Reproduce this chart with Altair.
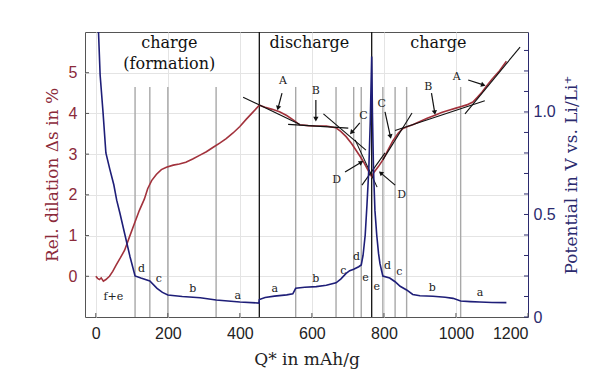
import math
import altair as alt
import pandas as pd

# ---------------- data ----------------
# relative dilation (left axis, %)
red_x = [0, 5, 10, 15, 21, 28, 38, 47, 56, 68, 80, 94, 107, 121, 135, 144, 155, 168, 182, 196,
         215, 232, 250, 269, 288, 307, 326, 344, 362, 381, 400, 418, 435, 454,
         470, 490, 510, 530, 550, 566, 590, 612, 640, 666, 680, 695, 710, 723, 735, 746, 755, 761, 766,
         772, 785, 797, 810, 825, 840, 853, 866, 880, 900, 920, 940, 960, 980, 1000, 1015, 1030,
         1047, 1060, 1072, 1084, 1100, 1121, 1140]
red_s = [0.0, -0.05, -0.08, -0.04, -0.12, -0.08, 0.0, 0.12, 0.27, 0.45, 0.64, 0.98, 1.29, 1.62, 1.90,
         2.15, 2.35, 2.50, 2.62, 2.68, 2.73, 2.76, 2.80, 2.88, 2.97, 3.06, 3.17, 3.27, 3.38, 3.52,
         3.68, 3.86, 4.02, 4.20,
         4.15, 4.10, 4.04, 3.95, 3.83, 3.72, 3.70, 3.69, 3.69, 3.65, 3.56, 3.43, 3.26, 3.09, 2.93,
         2.77, 2.62, 2.52, 2.45,
         2.55, 2.70, 2.86, 3.08, 3.33, 3.52, 3.63, 3.68, 3.72, 3.80, 3.88, 3.95, 4.02, 4.08, 4.13,
         4.17, 4.21, 4.28, 4.40, 4.52, 4.66, 4.84, 5.05, 5.28]

# potential (right axis, V vs Li/Li+)
blue_x = [3, 7.5, 12, 20, 28, 39, 50, 58, 67, 81, 95, 109, 125, 150, 170, 185, 200, 240, 290, 334,
          400, 453, 454, 470, 496, 530, 547, 555, 580, 612, 640, 667, 680, 695, 705, 716, 730, 737,
          742, 748, 753, 758, 762, 766, 768, 771, 775, 780, 785, 789, 797, 816, 831, 845, 863, 880,
          900, 936, 970, 992, 1013, 1040, 1066, 1100, 1140]
blue_v = [1.60, 1.39, 1.18, 1.00, 0.80, 0.72, 0.645, 0.57, 0.506, 0.40, 0.294, 0.20, 0.19, 0.176,
          0.14, 0.12, 0.107, 0.100, 0.094, 0.083, 0.073, 0.068, 0.085, 0.095, 0.102, 0.108, 0.113,
          0.140, 0.145, 0.148, 0.155, 0.167, 0.185, 0.213, 0.226, 0.233, 0.245, 0.254, 0.30, 0.40,
          0.55, 0.72, 0.95, 1.27, 1.0, 0.72, 0.52, 0.40, 0.31, 0.26, 0.20, 0.19, 0.172, 0.15, 0.132,
          0.110, 0.104, 0.101, 0.096, 0.091, 0.078, 0.075, 0.073, 0.071, 0.070]

# phase boundaries
grey_lines_x = [109, 150, 200, 334, 555, 667, 716, 737, 797, 831, 863, 1013]
grey_top = 4.65
black_lines_x = [454, 766]

# tangent segments (x1, s1, x2, s2)
tan_x1 = [409, 534, 632, 720, 739, 797, 831, 1025]
tan_y1 = [4.40, 3.73, 3.99, 3.35, 2.24, 2.86, 3.58, 3.99]
tan_x2 = [567, 701, 750, 781, 803, 878, 1080, 1178]
tan_y2 = [3.73, 3.64, 3.10, 2.19, 3.03, 4.01, 4.31, 5.63]

# arrows (x1, s1) -> (x2, s2)
arr_x1 = [517, 611, 733, 692, 803, 831, 932, 1034]
arr_y1 = [4.50, 4.33, 3.77, 2.56, 4.04, 2.24, 4.50, 4.82]
arr_x2 = [506, 611, 710, 737, 818, 791, 941, 1076]
arr_y2 = [4.13, 3.86, 3.53, 2.80, 3.43, 2.54, 4.02, 4.70]

# arrow labels
lab_text = ["A", "B", "C", "D", "C", "D", "B", "A"]
lab_x = [520, 611, 743, 669, 794, 849, 923, 1002]
lab_y = [4.80, 4.55, 3.94, 2.37, 4.23, 2.00, 4.66, 4.90]

# phase letters on potential curve
ph_text = ["f+e", "d", "c", "b", "a", "a", "b", "c", "d", "e", "e", "d", "c", "b", "a"]
ph_x = [49, 127, 175, 269, 394, 497, 611, 687, 724, 749, 780, 810, 843, 934, 1067]
ph_y = [-0.50, 0.17, -0.07, -0.32, -0.48, -0.31, -0.07, 0.13, 0.47, -0.05, -0.26, 0.25, 0.10,
        -0.29, -0.42]

# section titles
sec_text = ["charge", "(formation)", "discharge", "charge"]
sec_x = [204, 204, 593, 951]
sec_y = [5.72, 5.21, 5.72, 5.72]

x_ticks = [0, 200, 400, 600, 800, 1000, 1200]
left_ticks = [0, 1, 2, 3, 4, 5]
right_ticks = [round(0.1 * i, 1) for i in range(14)]

# ---------------- style ----------------
W, H = 443, 285
XD = [-30, 1200]
YD = [-1, 6]
VD = [0, 1.39]
RED = "#A2323C"
BLUE = "#1E1E78"
RED_TXT = "#8B2A3A"
BLUE_TXT = "#2B2A6E"
SERIF = "DejaVu Serif"

X = alt.X("x:Q", scale=alt.Scale(domain=XD, nice=False, zero=False),
          axis=alt.Axis(values=x_ticks, format="d", title="Q* in mAh/g", grid=True, ticks=False,
                        domain=False, labelFont="Liberation Sans", labelFontSize=16,
                        labelColor="#222", labelPadding=8, titleFont=SERIF, titleFontSize=17,
                        titleFontWeight="normal", titleColor="#222", titlePadding=10,
                        gridColor="#e4e4e4"))
Y = alt.Y("y:Q", scale=alt.Scale(domain=YD, nice=False, zero=False),
          axis=alt.Axis(values=left_ticks, title="Rel. dilation Δs in %", grid=True, ticks=False,
                        domain=False, labelFont="Liberation Sans", labelFontSize=16,
                        labelColor=RED_TXT, labelPadding=8, titleFont=SERIF, titleFontSize=17,
                        titleFontWeight="normal", titleColor=RED_TXT, titlePadding=7,
                        gridColor="#e4e4e4"))
V = alt.Y("v:Q", scale=alt.Scale(domain=VD, nice=False, zero=False),
          axis=alt.Axis(orient="right", values=[0, 0.5, 1.0],
                        labelExpr="datum.value == 0 ? '0' : format(datum.value, '.1f')",
                        grid=False, ticks=False, domain=True, domainColor=BLUE_TXT,
                        labelFont="Liberation Sans", labelFontSize=16, labelColor=BLUE_TXT,
                        labelPadding=5, title="Potential in V vs. Li/Li⁺", titleFont=SERIF,
                        titleFontSize=17, titleFontWeight="normal", titleColor=BLUE_TXT,
                        titleAngle=270, titlePadding=25))

# ---------------- frames ----------------
red_df = pd.DataFrame({"x": red_x, "y": red_s})
blue_df = pd.DataFrame({"x": blue_x, "v": blue_v, "o": list(range(len(blue_x)))})
grey_df = pd.DataFrame({"x": grey_lines_x, "y": [YD[0]] * len(grey_lines_x),
                        "y2": [grey_top] * len(grey_lines_x)})
black_df = pd.DataFrame({"x": black_lines_x, "y": [YD[0]] * 2, "y2": [YD[1]] * 2})
tan_df = pd.DataFrame({"x": tan_x1, "y": tan_y1, "x2": tan_x2, "y2": tan_y2})
arr_df = pd.DataFrame({"x": arr_x1, "y": arr_y1, "x2": arr_x2, "y2": arr_y2})


def head_angle(x1, y1, x2, y2):
    dxp = (x2 - x1) * W / (XD[1] - XD[0])
    dyp = -(y2 - y1) * H / (YD[1] - YD[0])
    return math.degrees(math.atan2(dxp, -dyp)) % 360


head_df = pd.DataFrame({"x": arr_x2, "y": arr_y2,
                        "a": [head_angle(*t) for t in zip(arr_x1, arr_y1, arr_x2, arr_y2)]})
lab_df = pd.DataFrame({"x": lab_x, "y": lab_y, "t": lab_text})
ph_df = pd.DataFrame({"x": ph_x, "y": ph_y, "t": ph_text})
sec_df = pd.DataFrame({"x": sec_x, "y": sec_y, "t": sec_text})
xt_df = pd.DataFrame({"x": x_ticks})
lt_df = pd.DataFrame({"y": left_ticks})
rt_df = pd.DataFrame({"v": right_ticks})

# ---------------- layers ----------------
grey_rules = alt.Chart(grey_df).mark_rule(color="#a8a8a8", strokeWidth=1.4).encode(
    x=X, y=Y, y2="y2:Q")
black_rules = alt.Chart(black_df).mark_rule(color="#111", strokeWidth=1.3).encode(
    x=X, y=Y, y2="y2:Q")
red_line = alt.Chart(red_df).mark_line(color=RED, strokeWidth=1.6, clip=True).encode(x=X, y=Y)
tangents = alt.Chart(tan_df).mark_rule(color="#111", strokeWidth=1.1).encode(
    x=X, y=Y, x2="x2:Q", y2="y2:Q")
arrows = alt.Chart(arr_df).mark_rule(color="#111", strokeWidth=1.2).encode(
    x=X, y=Y, x2="x2:Q", y2="y2:Q")
heads = alt.Chart(head_df).mark_point(shape="triangle-up", filled=True, color="#111", size=28,
                                      opacity=1).encode(x=X, y=Y, angle=alt.Angle("a:Q", scale=None))
labels = alt.Chart(lab_df).mark_text(font=SERIF, fontSize=11, color="#222").encode(
    x=X, y=Y, text="t:N")
phases = alt.Chart(ph_df).mark_text(font=SERIF, fontSize=11, color="#222").encode(
    x=X, y=Y, text="t:N")
sections = alt.Chart(sec_df).mark_text(font=SERIF, fontSize=16, color="#111").encode(
    x=X, y=Y, text="t:N")
xticks = alt.Chart(xt_df).mark_rule(color="#555").encode(
    x=X, y=alt.value(H), y2=alt.value(H - 4))
lticks = alt.Chart(lt_df).mark_rule(color="#555").encode(
    y=Y, x=alt.value(0), x2=alt.value(4))

left_group = alt.layer(grey_rules, black_rules, red_line, tangents, arrows, heads, labels,
                       phases, sections, xticks, lticks)

blue_line = alt.Chart(blue_df).mark_line(color=BLUE, strokeWidth=1.6, clip=True).encode(
    x=X, y=V, order="o:Q")
rticks = alt.Chart(rt_df).mark_rule(color=BLUE_TXT).encode(
    y=V, x=alt.value(W), x2=alt.value(W - 4))
right_group = alt.layer(blue_line, rticks)

chart = alt.layer(left_group, right_group).resolve_scale(y="independent").properties(
    width=W, height=H,
    autosize=alt.AutoSizeParams(type="none"),
    padding={"left": 77, "top": 24, "right": 79, "bottom": 66},
    background="white",
).configure_view(stroke="#555", strokeWidth=1)

chart.save("out.html", embed_options={"renderer": "svg", "actions": False})
